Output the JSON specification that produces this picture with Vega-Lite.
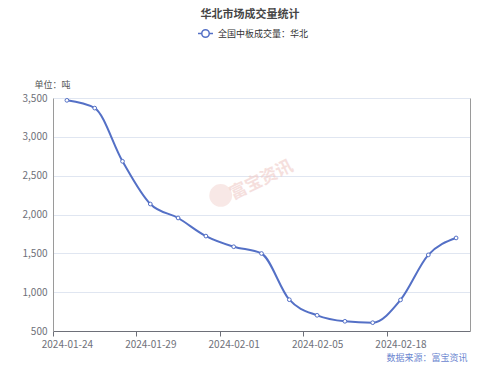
{
  "$schema": "https://vega.github.io/schema/vega-lite/v6.json",
  "width": 417,
  "height": 233,
  "autosize": {"type": "none"},
  "padding": {"left": 53, "top": 98, "right": 30, "bottom": 38},
  "background": "white",
  "config": {"font": "Noto Sans CJK SC", "view": {"stroke": null}},
  "title": {"text": "华北市场成交量统计", "fontSize": 11, "fontWeight": "bold", "color": "#464646", "anchor": "middle", "dx": -11.5, "offset": 5},
  "datasets": {
    "main": [
      {"date": "2024-01-24", "value": 3470, "series": "全国中板成交量：华北"},
      {"date": "2024-01-25", "value": 3370, "series": "全国中板成交量：华北"},
      {"date": "2024-01-26", "value": 2685, "series": "全国中板成交量：华北"},
      {"date": "2024-01-29", "value": 2135, "series": "全国中板成交量：华北"},
      {"date": "2024-01-30", "value": 1955, "series": "全国中板成交量：华北"},
      {"date": "2024-01-31", "value": 1722, "series": "全国中板成交量：华北"},
      {"date": "2024-02-01", "value": 1585, "series": "全国中板成交量：华北"},
      {"date": "2024-02-02", "value": 1498, "series": "全国中板成交量：华北"},
      {"date": "2024-02-04", "value": 903, "series": "全国中板成交量：华北"},
      {"date": "2024-02-05", "value": 702, "series": "全国中板成交量：华北"},
      {"date": "2024-02-06", "value": 625, "series": "全国中板成交量：华北"},
      {"date": "2024-02-07", "value": 607, "series": "全国中板成交量：华北"},
      {"date": "2024-02-18", "value": 900, "series": "全国中板成交量：华北"},
      {"date": "2024-02-19", "value": 1480, "series": "全国中板成交量：华北"},
      {"date": "2024-02-20", "value": 1698, "series": "全国中板成交量：华北"}
    ],
    "mark": [
      {"date": "2024-02-02", "value": 2440, "label": "富宝资讯"}
    ],
    "logo": [
      {"date": "2024-02-01", "value": 2245}
    ]
  },
  "resolve": {"axis": {"y": "independent"}},
  "layer": [
    {
      "data": {"name": "main"},
      "mark": {"type": "line", "interpolate": "monotone", "strokeWidth": 2},
      "encoding": {
        "x": {
          "field": "date", "type": "ordinal",
          "scale": {"type": "band", "paddingInner": 0, "paddingOuter": 0, "domain": ["2024-01-24","2024-01-25","2024-01-26","2024-01-29","2024-01-30","2024-01-31","2024-02-01","2024-02-02","2024-02-04","2024-02-05","2024-02-06","2024-02-07","2024-02-18","2024-02-19","2024-02-20"]},
          "axis": {
            "orient": "bottom",
            "values": ["2024-01-24","2024-01-29","2024-02-01","2024-02-05","2024-02-18"],
            "labelAngle": 0, "ticks": true, "tickSize": 5, "tickColor": "#6E7079", "tickOffset": -13.9, "labelOffset": 13.9,
            "domainColor": "#6E7079", "labelColor": "#6E7079", "labelFontSize": 10, "labelPadding": 3,
            "grid": false,
            "title": "数据来源：富宝资讯", "titleAnchor": "end", "titleAlign": "right", "titleX": 414, "titleY": 26,
            "titleFontSize": 9, "titleFontWeight": "normal", "titleColor": "#6b86d0", "titleBaseline": "middle"
          }
        },
        "y": {
          "field": "value", "type": "quantitative",
          "scale": {"domain": [500, 3500], "nice": false, "zero": false},
          "axis": {
            "orient": "left",
            "values": [500, 1000, 1500, 2000, 2500, 3000, 3500], "labelExpr": "format(datum.value, ',')",
            "ticks": false, "labelPadding": 6, "labelColor": "#6E7079", "labelFontSize": 10,
            "grid": true, "gridColor": "#E0E6F1", "domainColor": "#9a9a9a",
            "title": "单位：吨", "titleAngle": 0, "titleAlign": "center", "titleX": -1, "titleY": -14,
            "titleBaseline": "middle", "titleFontSize": 9, "titleFontWeight": "normal", "titleColor": "#555555"
          }
        },
        "color": {
          "field": "series", "type": "nominal",
          "scale": {"range": ["#5470c6"]},
          "legend": {
            "orient": "none", "legendX": 144, "legendY": -73, "title": null, "padding": 0,
            "symbolType": "M-1,0H-0.5M0.5,0H1M0.5,0A0.5,0.5,0,1,1,-0.5,0A0.5,0.5,0,1,1,0.5,0Z",
            "symbolSize": 225, "symbolStrokeWidth": 1.5, "symbolFillColor": "white",
            "labelFontSize": 9, "labelColor": "#333333", "labelOffset": 4
          }
        }
      }
    },
    {
      "data": {"name": "logo"},
      "mark": {"type": "point", "shape": "circle", "filled": true, "size": 520, "color": "#f0cbc7", "opacity": 0.45, "xOffset": -13},
      "encoding": {
        "x": {"field": "date", "type": "ordinal"},
        "y": {"field": "value", "type": "quantitative", "axis": null}
      }
    },
    {
      "data": {"name": "mark"},
      "mark": {"type": "text", "fontSize": 17, "angle": -26, "color": "#f0cbc7", "opacity": 0.6, "fontWeight": "bold"},
      "encoding": {
        "x": {"field": "date", "type": "ordinal"},
        "y": {"field": "value", "type": "quantitative", "axis": null},
        "text": {"field": "label"}
      }
    },
    {
      "data": {"name": "main"},
      "mark": {"type": "point", "shape": "circle", "filled": true, "fill": "white", "stroke": "#5470c6", "strokeWidth": 1, "size": 14, "opacity": 1},
      "encoding": {
        "x": {"field": "date", "type": "ordinal"},
        "y": {
          "field": "value", "type": "quantitative",
          "axis": {"orient": "right", "labels": false, "ticks": false, "grid": false, "domainColor": "#9a9a9a", "title": null}
        }
      }
    }
  ]
}
